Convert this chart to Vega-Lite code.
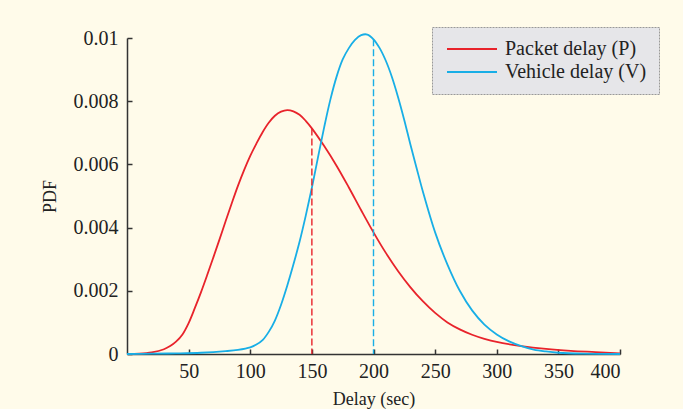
{
  "$schema": "https://vega.github.io/schema/vega-lite/v6.json",
  "width": 493,
  "height": 316,
  "autosize": {"type": "none"},
  "padding": {"left": 127, "top": 38, "right": 63, "bottom": 55},
  "background": "#FFFBEA",
  "config": {
    "view": {"stroke": null},
    "font": "Liberation Serif",
    "axis": {
      "grid": false,
      "domainColor": "#333333",
      "domainWidth": 1.5,
      "tickColor": "#333333",
      "tickWidth": 1.5,
      "tickSize": -5,
      "labelFont": "Liberation Serif",
      "labelFontSize": 20,
      "labelColor": "#222222",
      "titleFont": "Liberation Serif",
      "titleFontSize": 18,
      "titleFontWeight": "normal",
      "titleColor": "#222222"
    }
  },
  "datasets": {
    "curves": [
      {"delay": 0, "pdf": 0.0, "series": "Packet delay (P)"},
      {"delay": 10, "pdf": 0.00001, "series": "Packet delay (P)"},
      {"delay": 20, "pdf": 0.00005, "series": "Packet delay (P)"},
      {"delay": 30, "pdf": 0.00015, "series": "Packet delay (P)"},
      {"delay": 35, "pdf": 0.00025, "series": "Packet delay (P)"},
      {"delay": 40, "pdf": 0.0004, "series": "Packet delay (P)"},
      {"delay": 45, "pdf": 0.00062, "series": "Packet delay (P)"},
      {"delay": 50, "pdf": 0.00098, "series": "Packet delay (P)"},
      {"delay": 55, "pdf": 0.00145, "series": "Packet delay (P)"},
      {"delay": 60, "pdf": 0.00195, "series": "Packet delay (P)"},
      {"delay": 65, "pdf": 0.00249, "series": "Packet delay (P)"},
      {"delay": 70, "pdf": 0.00305, "series": "Packet delay (P)"},
      {"delay": 75, "pdf": 0.00362, "series": "Packet delay (P)"},
      {"delay": 80, "pdf": 0.0042, "series": "Packet delay (P)"},
      {"delay": 85, "pdf": 0.00477, "series": "Packet delay (P)"},
      {"delay": 90, "pdf": 0.00532, "series": "Packet delay (P)"},
      {"delay": 95, "pdf": 0.00582, "series": "Packet delay (P)"},
      {"delay": 100, "pdf": 0.00627, "series": "Packet delay (P)"},
      {"delay": 105, "pdf": 0.00666, "series": "Packet delay (P)"},
      {"delay": 110, "pdf": 0.00702, "series": "Packet delay (P)"},
      {"delay": 115, "pdf": 0.00732, "series": "Packet delay (P)"},
      {"delay": 120, "pdf": 0.00754, "series": "Packet delay (P)"},
      {"delay": 125, "pdf": 0.00767, "series": "Packet delay (P)"},
      {"delay": 130, "pdf": 0.00772, "series": "Packet delay (P)"},
      {"delay": 135, "pdf": 0.00768, "series": "Packet delay (P)"},
      {"delay": 140, "pdf": 0.00757, "series": "Packet delay (P)"},
      {"delay": 145, "pdf": 0.00738, "series": "Packet delay (P)"},
      {"delay": 150, "pdf": 0.00714, "series": "Packet delay (P)"},
      {"delay": 160, "pdf": 0.00658, "series": "Packet delay (P)"},
      {"delay": 170, "pdf": 0.00596, "series": "Packet delay (P)"},
      {"delay": 180, "pdf": 0.00527, "series": "Packet delay (P)"},
      {"delay": 190, "pdf": 0.00455, "series": "Packet delay (P)"},
      {"delay": 200, "pdf": 0.00385, "series": "Packet delay (P)"},
      {"delay": 210, "pdf": 0.0032, "series": "Packet delay (P)"},
      {"delay": 220, "pdf": 0.00262, "series": "Packet delay (P)"},
      {"delay": 230, "pdf": 0.00211, "series": "Packet delay (P)"},
      {"delay": 240, "pdf": 0.00167, "series": "Packet delay (P)"},
      {"delay": 250, "pdf": 0.0013, "series": "Packet delay (P)"},
      {"delay": 260, "pdf": 0.001, "series": "Packet delay (P)"},
      {"delay": 270, "pdf": 0.00078, "series": "Packet delay (P)"},
      {"delay": 280, "pdf": 0.00061, "series": "Packet delay (P)"},
      {"delay": 290, "pdf": 0.00048, "series": "Packet delay (P)"},
      {"delay": 300, "pdf": 0.00038, "series": "Packet delay (P)"},
      {"delay": 320, "pdf": 0.00025, "series": "Packet delay (P)"},
      {"delay": 340, "pdf": 0.00016, "series": "Packet delay (P)"},
      {"delay": 360, "pdf": 0.0001, "series": "Packet delay (P)"},
      {"delay": 380, "pdf": 0.00006, "series": "Packet delay (P)"},
      {"delay": 400, "pdf": 0.00002, "series": "Packet delay (P)"},
      {"delay": 0, "pdf": 0.0, "series": "Vehicle delay (V)"},
      {"delay": 20, "pdf": 0.00001, "series": "Vehicle delay (V)"},
      {"delay": 40, "pdf": 0.00002, "series": "Vehicle delay (V)"},
      {"delay": 60, "pdf": 0.00004, "series": "Vehicle delay (V)"},
      {"delay": 80, "pdf": 0.00009, "series": "Vehicle delay (V)"},
      {"delay": 90, "pdf": 0.00013, "series": "Vehicle delay (V)"},
      {"delay": 100, "pdf": 0.00021, "series": "Vehicle delay (V)"},
      {"delay": 105, "pdf": 0.0003, "series": "Vehicle delay (V)"},
      {"delay": 110, "pdf": 0.00044, "series": "Vehicle delay (V)"},
      {"delay": 115, "pdf": 0.0007, "series": "Vehicle delay (V)"},
      {"delay": 120, "pdf": 0.00106, "series": "Vehicle delay (V)"},
      {"delay": 125, "pdf": 0.00156, "series": "Vehicle delay (V)"},
      {"delay": 130, "pdf": 0.00216, "series": "Vehicle delay (V)"},
      {"delay": 135, "pdf": 0.00283, "series": "Vehicle delay (V)"},
      {"delay": 140, "pdf": 0.00355, "series": "Vehicle delay (V)"},
      {"delay": 145, "pdf": 0.00437, "series": "Vehicle delay (V)"},
      {"delay": 150, "pdf": 0.00526, "series": "Vehicle delay (V)"},
      {"delay": 155, "pdf": 0.00623, "series": "Vehicle delay (V)"},
      {"delay": 160, "pdf": 0.00718, "series": "Vehicle delay (V)"},
      {"delay": 165, "pdf": 0.00805, "series": "Vehicle delay (V)"},
      {"delay": 170, "pdf": 0.00877, "series": "Vehicle delay (V)"},
      {"delay": 175, "pdf": 0.00932, "series": "Vehicle delay (V)"},
      {"delay": 180, "pdf": 0.00968, "series": "Vehicle delay (V)"},
      {"delay": 185, "pdf": 0.00994, "series": "Vehicle delay (V)"},
      {"delay": 190, "pdf": 0.01009, "series": "Vehicle delay (V)"},
      {"delay": 195, "pdf": 0.01011, "series": "Vehicle delay (V)"},
      {"delay": 200, "pdf": 0.00996, "series": "Vehicle delay (V)"},
      {"delay": 205, "pdf": 0.00968, "series": "Vehicle delay (V)"},
      {"delay": 210, "pdf": 0.00928, "series": "Vehicle delay (V)"},
      {"delay": 215, "pdf": 0.00876, "series": "Vehicle delay (V)"},
      {"delay": 220, "pdf": 0.00812, "series": "Vehicle delay (V)"},
      {"delay": 225, "pdf": 0.0074, "series": "Vehicle delay (V)"},
      {"delay": 230, "pdf": 0.00662, "series": "Vehicle delay (V)"},
      {"delay": 235, "pdf": 0.00588, "series": "Vehicle delay (V)"},
      {"delay": 240, "pdf": 0.00515, "series": "Vehicle delay (V)"},
      {"delay": 250, "pdf": 0.00385, "series": "Vehicle delay (V)"},
      {"delay": 260, "pdf": 0.00283, "series": "Vehicle delay (V)"},
      {"delay": 270, "pdf": 0.002, "series": "Vehicle delay (V)"},
      {"delay": 280, "pdf": 0.00138, "series": "Vehicle delay (V)"},
      {"delay": 290, "pdf": 0.00093, "series": "Vehicle delay (V)"},
      {"delay": 300, "pdf": 0.00062, "series": "Vehicle delay (V)"},
      {"delay": 310, "pdf": 0.0004, "series": "Vehicle delay (V)"},
      {"delay": 320, "pdf": 0.00025, "series": "Vehicle delay (V)"},
      {"delay": 330, "pdf": 0.00014, "series": "Vehicle delay (V)"},
      {"delay": 340, "pdf": 0.00008, "series": "Vehicle delay (V)"},
      {"delay": 350, "pdf": 0.00004, "series": "Vehicle delay (V)"},
      {"delay": 370, "pdf": 0.00001, "series": "Vehicle delay (V)"},
      {"delay": 400, "pdf": 0.0, "series": "Vehicle delay (V)"}
    ],
    "rules": [
      {"delay": 150, "pdf": 0.00714, "series": "Packet delay (P)"},
      {"delay": 200, "pdf": 0.00996, "series": "Vehicle delay (V)"}
    ]
  },
  "layer": [
    {
      "data": {"name": "curves"},
      "mark": {"type": "line", "strokeWidth": 1.8, "interpolate": "catmull-rom", "clip": false},
      "encoding": {
        "x": {
          "field": "delay",
          "type": "quantitative",
          "scale": {"domain": [0, 400], "nice": false},
          "axis": {"values": [50, 100, 150, 200, 250, 300, 350, 400], "title": "Delay (sec)", "labelPadding": 12, "titlePadding": 9}
        },
        "y": {
          "field": "pdf",
          "type": "quantitative",
          "scale": {"domain": [0, 0.01], "nice": false},
          "axis": {"values": [0, 0.002, 0.004, 0.006, 0.008, 0.01], "format": "~g", "title": "PDF", "labelPadding": 14, "titlePadding": 14}
        },
        "color": {
          "field": "series",
          "type": "nominal",
          "scale": {"domain": ["Packet delay (P)", "Vehicle delay (V)"], "range": ["#E8232B", "#18AEE6"]},
          "legend": {
            "title": null,
            "orient": "none",
            "legendX": 305,
            "legendY": -11,
            "symbolType": "M-5,0H5",
            "symbolSize": 100,
            "symbolStrokeWidth": 1.8,
            "symbolOffset": 18,
            "labelFont": "Liberation Serif",
            "labelFontSize": 20,
            "labelColor": "#222222",
            "labelOffset": 23,
            "labelExpr": "datum.label + '       \u00a0\u00a0'",
            "fillColor": "#E6E6E9",
            "strokeColor": "#999999",
            "padding": 12,
            "rowPadding": 3,
            "encode": {"legend": {"update": {"strokeDash": {"value": [2, 1]}}}}
          }
        }
      }
    },
    {
      "data": {"name": "rules"},
      "mark": {"type": "rule", "strokeDash": [7, 3], "strokeWidth": 1.4},
      "encoding": {
        "x": {"field": "delay", "type": "quantitative"},
        "y": {"field": "pdf", "type": "quantitative"},
        "y2": {"datum": 0},
        "color": {"field": "series", "type": "nominal"}
      }
    }
  ]
}
